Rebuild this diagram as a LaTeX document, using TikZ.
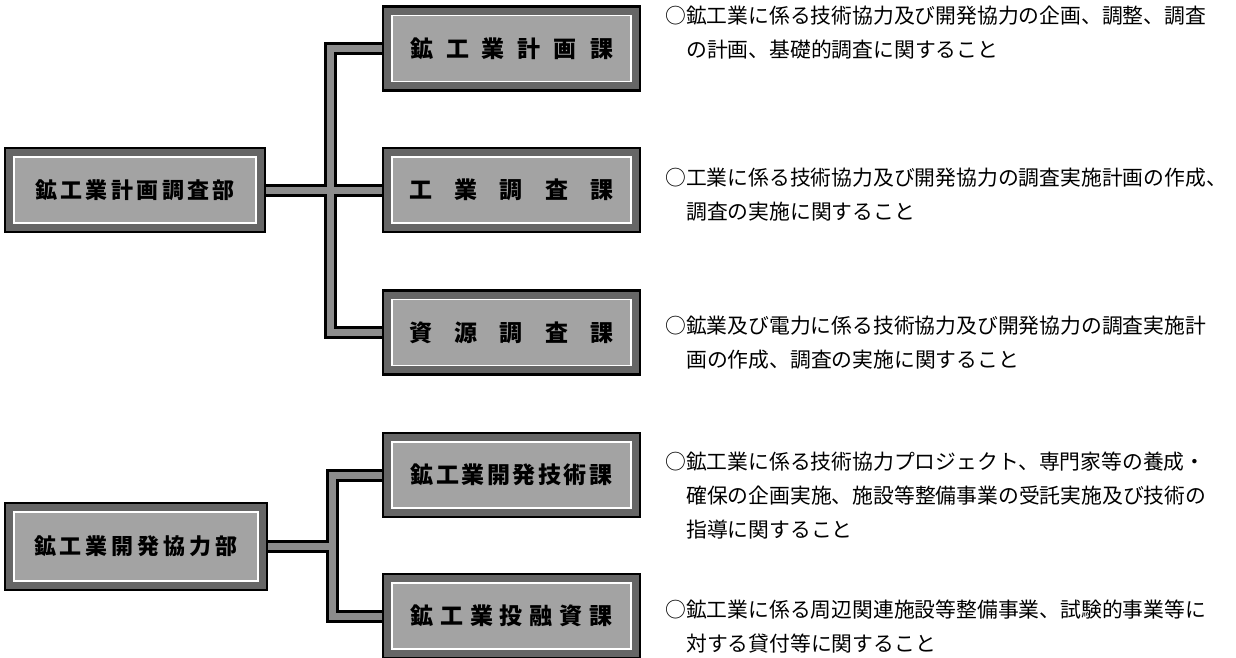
\documentclass[tikz,border=0pt]{standalone}
\usepackage{fontspec}
\newfontfamily\jp{Noto Sans CJK JP}
\begin{document}
\begin{tikzpicture}[x=1pt,y=-1pt,
  orgbox/.style={draw=black, line width=2.5pt, fill=black!60, inner sep=0pt,
    minimum width=257pt, minimum height=84pt,
    font=\jp\bfseries\fontsize{23}{23}\selectfont,
    path picture={\draw[white, line width=1.6pt, fill=black!36]
      ([shift={(9pt,-9pt)}]path picture bounding box.north west) rectangle
      ([shift={(-9pt,9pt)}]path picture bounding box.south east);}},
  deptbox/.style={orgbox, font=\jp\bfseries\fontsize{22}{22}\selectfont},
  desc/.style={anchor=west, inner sep=0pt, font=\jp\fontsize{20.8}{21}\selectfont},
  connout/.style={draw=black, line width=13pt},
  connin/.style={draw=black!45, line width=7pt}
]
\useasboundingbox (0,0) rectangle (1236,657);
\newcommand\spreadtext[2]{\makebox[#1][s]{#2}}

% department boxes
\node[deptbox, minimum width=260pt] (A) at (135,190) {\spreadtext{200pt}{鉱\hfill 工\hfill 業\hfill 計\hfill 画\hfill 調\hfill 査\hfill 部}};
\node[deptbox, minimum width=262pt, minimum height=87pt] (B) at (136,546.5) {\spreadtext{204pt}{鉱\hfill 工\hfill 業\hfill 開\hfill 発\hfill 協\hfill 力\hfill 部}};

% section boxes
\node[orgbox] (b1) at (511.5,48.5) {\spreadtext{203pt}{鉱\hfill 工\hfill 業\hfill 計\hfill 画\hfill 課}};
\node[orgbox] (b2) at (511.5,190) {\spreadtext{204pt}{工\hfill 業\hfill 調\hfill 査\hfill 課}};
\node[orgbox] (b3) at (511.5,332.5) {\spreadtext{204pt}{資\hfill 源\hfill 調\hfill 査\hfill 課}};
\node[orgbox] (b4) at (511.5,475) {\spreadtext{202pt}{鉱\hfill 工\hfill 業\hfill 開\hfill 発\hfill 技\hfill 術\hfill 課}};
\node[orgbox] (b5) at (511.5,616) {\spreadtext{202pt}{鉱\hfill 工\hfill 業\hfill 投\hfill 融\hfill 資\hfill 課}};

% connectors
\coordinate (j1) at (330,190);
\coordinate (j2) at (332,546.5);
\newcommand\allconn[1]{%
  \draw[#1] (A.east) -- (j1);
  \draw[#1] (j1) |- (b1.west);
  \draw[#1] (j1) |- (b3.west);
  \draw[#1] (j1) -- (b2.west);
  \draw[#1] (B.east) -- (j2);
  \draw[#1] (j2) |- (b4.west);
  \draw[#1] (j2) |- (b5.west);
}
\allconn{connout}
\allconn{connin}

% descriptions
\node[desc] (d1a) at (665,16) {○鉱工業に係る技術協力及び開発協力の企画、調整、調査};
\node[desc] (d1b) at (686,50) {の計画、基礎的調査に関すること};
\node[desc] (d2a) at (665,178) {○工業に係る技術協力及び開発協力の調査実施計画の作成、};
\node[desc] (d2b) at (686,212) {調査の実施に関すること};
\node[desc] (d3a) at (665,326) {○鉱業及び電力に係る技術協力及び開発協力の調査実施計};
\node[desc] (d3b) at (686,360) {画の作成、調査の実施に関すること};
\node[desc] (d4a) at (665,462) {○鉱工業に係る技術協力プロジェクト、専門家等の養成・};
\node[desc] (d4b) at (686,496) {確保の企画実施、施設等整備事業の受託実施及び技術の};
\node[desc] (d4c) at (686,530) {指導に関すること};
\node[desc] (d5a) at (665,610) {○鉱工業に係る周辺関連施設等整備事業、試験的事業等に};
\node[desc] (d5b) at (686,644) {対する貸付等に関すること};
\end{tikzpicture}
\end{document}
